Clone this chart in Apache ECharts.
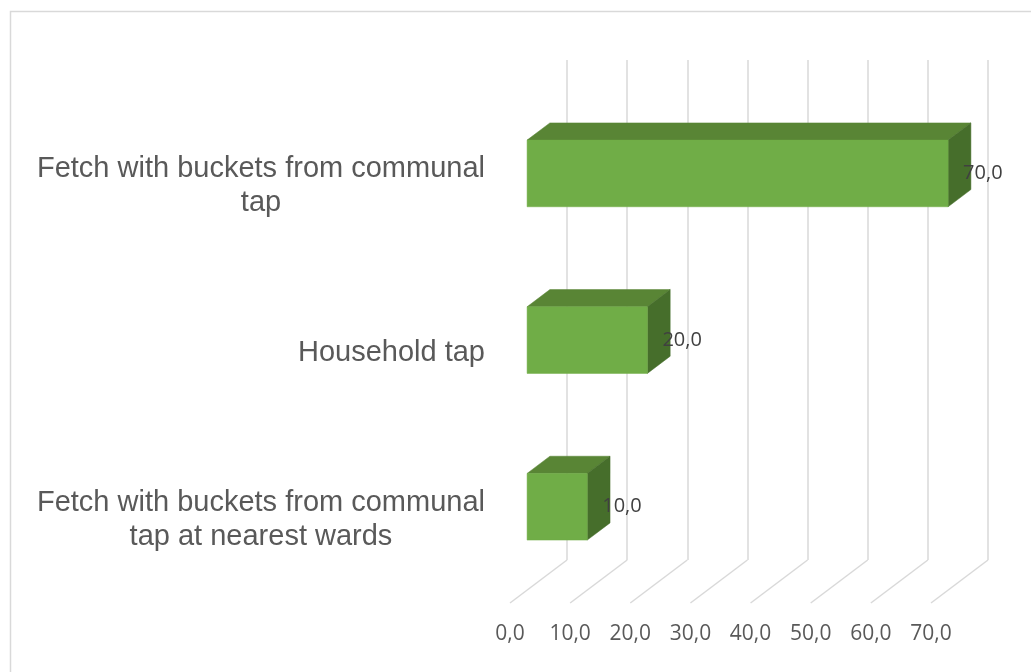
<!DOCTYPE html>
<html>
<head>
<meta charset="utf-8">
<script src="https://cdn.jsdelivr.net/npm/echarts@6/dist/echarts.min.js"></script>
<style>
html,body{margin:0;padding:0;background:#fff;}
#chart{width:1031px;height:672px;}
</style>
</head>
<body>
<div id="chart"></div>
<script>
// ---- data ----
const categories = [
  "Fetch with buckets from communal\ntap at nearest wards",
  "Household tap",
  "Fetch with buckets from communal\ntap"
];
const values = [10.0, 20.0, 70.0];
const tickValues = [0, 10, 20, 30, 40, 50, 60, 70];
const tickLabels = ["0,0", "10,0", "20,0", "30,0", "40,0", "50,0", "60,0", "70,0"];

// ---- style ----
const depthX = -57, depthY = 43;      // floor depth vector (back -> front)
const barFront = 0.70, barBack = 0.30; // bar depth position along floor
const barRatio = 0.40;
const gridColor = '#d9d9d9';
const faceColor = '#70ad47', topColor = '#598535', sideColor = '#466e2b';

const chart = echarts.init(document.getElementById('chart'), null, {renderer: 'canvas'});

function fmt(v) { const i = tickValues.indexOf(v); return i >= 0 ? tickLabels[i] : v.toFixed(1).replace('.', ','); }

function renderBar(params, api) {
  const v = api.value(0), c = api.value(1);
  const p0 = api.coord([0, c]);
  const p1 = api.coord([v, c]);
  const h = api.size([0, 1])[1] * barRatio;
  const fx = depthX * barFront, fy = depthY * barFront;
  const bx = depthX * barBack, by = depthY * barBack;
  const cy = p0[1];
  const ftl = [p0[0] + fx, cy + fy - h / 2], ftr = [p1[0] + fx, cy + fy - h / 2];
  const fbr = [p1[0] + fx, cy + fy + h / 2], fbl = [p0[0] + fx, cy + fy + h / 2];
  const btl = [p0[0] + bx, cy + by - h / 2], btr = [p1[0] + bx, cy + by - h / 2];
  const bbr = [p1[0] + bx, cy + by + h / 2];
  return {
    type: 'group',
    children: [
      {type: 'polygon', shape: {points: [ftl, ftr, btr, btl]}, style: {fill: topColor, stroke: topColor, lineWidth: 0.5}},
      {type: 'polygon', shape: {points: [ftr, btr, bbr, fbr]}, style: {fill: sideColor, stroke: sideColor, lineWidth: 0.5}},
      {type: 'polygon', shape: {points: [ftl, ftr, fbr, fbl]}, style: {fill: faceColor, stroke: faceColor, lineWidth: 0.5}},
      {type: 'text', z2: 10, style: {text: fmt(v), x: ftr[0] + 15, y: cy + fy, verticalAlign: 'middle', align: 'left',
        fontSize: 20, fontFamily: 'Open Sans', fill: '#404040'}}
    ]
  };
}

function renderFloor(params, api) {
  const v = api.value(0);
  const p = api.coord([v, 0]);
  const bottom = params.coordSys.y + params.coordSys.height;
  return {
    type: 'line',
    shape: {x1: p[0], y1: bottom, x2: p[0] + depthX, y2: bottom + depthY},
    style: {stroke: gridColor, lineWidth: 1.5}
  };
}

const option = {
  animation: false,
  backgroundColor: '#fff',
  graphic: [{
    type: 'polyline', silent: true,
    shape: {points: [[10.5, 700], [10.5, 11.5], [1100, 11.5]]},
    style: {stroke: '#d9d9d9', lineWidth: 1.5, fill: null}
  }],
  grid: [
    {left: 567, right: 43, top: 60, bottom: 112},
    {left: 510, right: 100, top: 103, bottom: 69}
  ],
  xAxis: [
    {type: 'value', gridIndex: 0, min: 0, max: 70, interval: 10,
      axisLabel: {show: false}, axisLine: {show: false}, axisTick: {show: false},
      splitLine: {show: true, lineStyle: {color: gridColor, width: 1.5}}},
    {type: 'value', gridIndex: 1, min: 0, max: 70, interval: 10,
      axisLine: {show: false}, axisTick: {show: false}, splitLine: {show: false},
      axisLabel: {show: true, margin: 21, fontSize: 21, fontFamily: 'Open Sans', color: '#595959', formatter: fmt}}
  ],
  yAxis: [
    {type: 'category', gridIndex: 0, data: categories,
      axisLabel: {show: false}, axisLine: {show: false}, axisTick: {show: false}, splitLine: {show: false}},
    {type: 'category', gridIndex: 1, data: categories,
      axisLine: {show: false}, axisTick: {show: false}, splitLine: {show: false},
      axisLabel: {
        show: true, margin: 25, align: 'right',
        formatter: function (val) { return val.split('\n').map(l => '{c|' + l + '}').join('\n'); },
        rich: {c: {align: 'center', fontSize: 29, lineHeight: 34, color: '#595959', fontFamily: 'Liberation Sans'}}
      }}
  ],
  series: [
    {type: 'custom', xAxisIndex: 0, yAxisIndex: 0, renderItem: renderFloor, silent: true,
      data: tickValues.map(v => [v]), encode: {x: 0}, z: 1},
    {type: 'custom', xAxisIndex: 0, yAxisIndex: 0, renderItem: renderBar,
      data: values.map((v, i) => [v, i]), encode: {x: 0, y: 1}, z: 5}
  ]
};
chart.setOption(option);
</script>
</body>
</html>
